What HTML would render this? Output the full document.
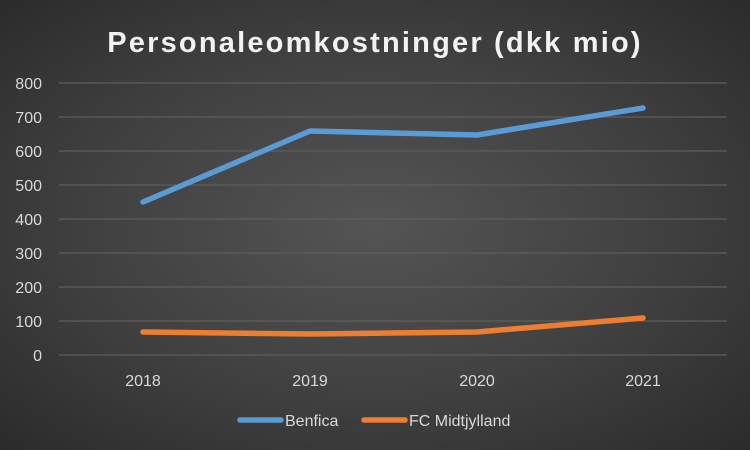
<!DOCTYPE html>
<html><head><style>
html,body{margin:0;padding:0;}
body{width:750px;height:450px;overflow:hidden;background:radial-gradient(ellipse at center,#545454 0%,#404040 55%,#2b2b2b 100%);font-family:"Liberation Sans",sans-serif;}
</style></head><body>
<svg width="750" height="450" xmlns="http://www.w3.org/2000/svg" style="position:absolute;left:0;top:0">
<text x="375" y="52" text-anchor="middle" font-family="Liberation Sans" font-weight="bold" font-size="29" letter-spacing="2.2" fill="#f2f2f2">Personaleomkostninger (dkk mio)</text>
<g stroke="#5e5e5e" stroke-width="1.3">
<line x1="59" x2="727" y1="83" y2="83"/><line x1="59" x2="727" y1="117" y2="117"/>
<line x1="59" x2="727" y1="151" y2="151"/><line x1="59" x2="727" y1="185" y2="185"/>
<line x1="59" x2="727" y1="219" y2="219"/><line x1="59" x2="727" y1="253" y2="253"/>
<line x1="59" x2="727" y1="287" y2="287"/><line x1="59" x2="727" y1="321" y2="321"/>
<line x1="59" x2="727" y1="355" y2="355"/>
</g>
<g font-family="Liberation Sans" font-size="16" fill="#d9d9d9" text-anchor="end">
<text x="42" y="89">800</text><text x="42" y="123">700</text><text x="42" y="157">600</text>
<text x="42" y="191">500</text><text x="42" y="225">400</text><text x="42" y="259">300</text>
<text x="42" y="293">200</text><text x="42" y="327">100</text><text x="42" y="361">0</text>
</g>
<g font-family="Liberation Sans" font-size="16" fill="#d9d9d9" text-anchor="middle">
<text x="143" y="386">2018</text><text x="310" y="386">2019</text><text x="477" y="386">2020</text><text x="643" y="386">2021</text>
</g>
<polyline points="143,202 310,131 477,135 643,108" fill="none" stroke="#5b9bd5" stroke-width="5.5" stroke-linecap="round" stroke-linejoin="round"/>
<polyline points="143,332 310,334 477,332 643,318" fill="none" stroke="#ed7d31" stroke-width="5.5" stroke-linecap="round" stroke-linejoin="round"/>
<line x1="240" x2="281" y1="420" y2="420" stroke="#5b9bd5" stroke-width="5.5" stroke-linecap="round"/>
<text x="285" y="426" font-family="Liberation Sans" font-size="16" fill="#d9d9d9">Benfica</text>
<line x1="364" x2="405" y1="420" y2="420" stroke="#ed7d31" stroke-width="5.5" stroke-linecap="round"/>
<text x="409" y="426" font-family="Liberation Sans" font-size="16" fill="#d9d9d9">FC Midtjylland</text>
</svg>
</body></html>
